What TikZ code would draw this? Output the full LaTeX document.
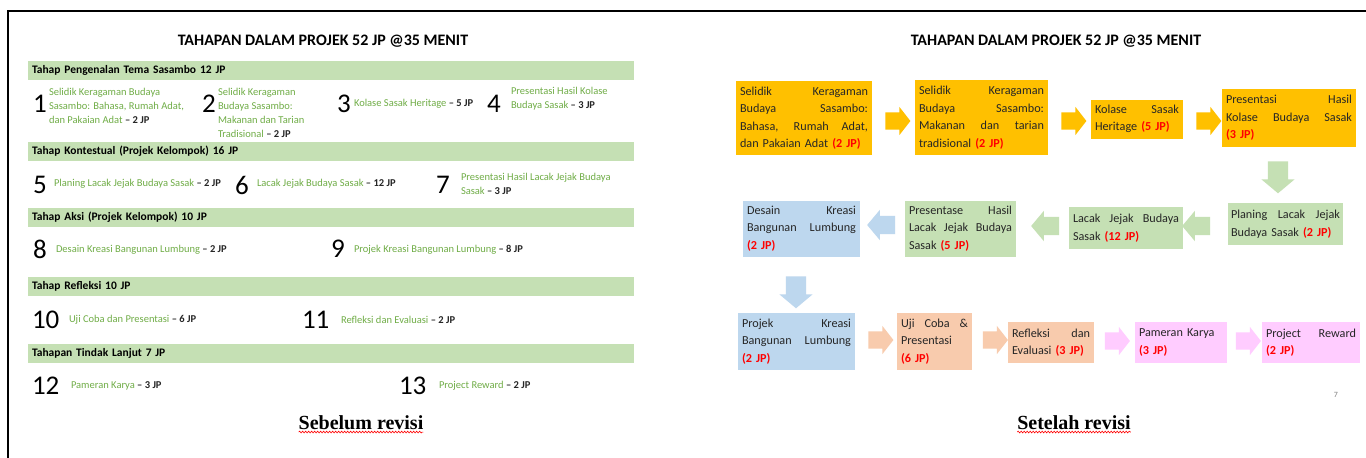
\documentclass[tikz,border=0pt]{standalone}
\usepackage{fontspec}
\setmainfont{Carlito}
\newfontfamily\capfont{Liberation Serif}
\usetikzlibrary{shapes.arrows,calc,decorations.pathmorphing}
\definecolor{borange}{HTML}{FFC000}
\definecolor{bgreen}{HTML}{C5E0B4}
\definecolor{bblue}{HTML}{BDD7EE}
\definecolor{bpeach}{HTML}{F8CBAD}
\definecolor{bpink}{HTML}{FFCCFF}
\definecolor{itemgreen}{HTML}{70AD47}
\definecolor{jpred}{HTML}{FF0000}
\definecolor{txt}{HTML}{262626}
\newcommand{\jl}[2]{\leavevmode\hbox to #1pt{\spaceskip=0.25em plus 1fil\relax #2}}
\newcommand{\jp}[1]{\textcolor{jpred}{\bfseries(#1)}}
\newcommand{\dur}[1]{{\bfseries\color{txt}#1}}
\begin{document}
\begin{tikzpicture}[x=1pt,y=-1pt,
  every node/.style={inner sep=0pt, outer sep=0pt},
  ttl/.style={font=\bfseries\fontsize{16}{19}\selectfont, text=black},
  bar/.style={fill=bgreen, minimum width=606pt, minimum height=19pt, anchor=north west, text width=598pt, inner xsep=4pt, align=left, font=\bfseries\fontsize{11.5}{13}\selectfont, text=black},
  num/.style={font=\fontsize{27}{27}\selectfont, anchor=west, text=black},
  item/.style={font=\fontsize{10.5}{14}\selectfont, anchor=west, align=left, text=itemgreen},
  stepbox/.style={fill=#1, inner sep=4pt, align=left, font=\fontsize{12.2}{17.5}\selectfont, text=txt},
  blk/.style={single arrow, fill=#1, inner xsep=0pt, inner ysep=8.5pt, minimum height=25pt, single arrow head extend=5.5pt, single arrow tip angle=104},
  blkd/.style={single arrow, fill=#1, inner xsep=0pt, inner ysep=10pt, minimum height=32pt, single arrow head extend=6.5pt, single arrow tip angle=100, rotate=-90},
  blkl/.style={single arrow, fill=#1, inner xsep=0pt, inner ysep=9pt, minimum height=28pt, single arrow head extend=6pt, single arrow tip angle=100, rotate=180},
  captxt/.style={font=\capfont\bfseries\fontsize{20}{23}\selectfont, text=black},
  wavy/.style={draw=red, line width=0.6pt, decorate, decoration={snake, amplitude=0.9pt, segment length=3pt}}
]
\useasboundingbox (0,0) rectangle (1366,458);
\fill[white] (0,0) rectangle (1366,458);
\draw[line width=2pt] (8,458) -- (8,11) -- (1366,11);

% ---------------- left: before revision ----------------
\node[ttl] (t1) at (323,41) {TAHAPAN DALAM PROJEK 52 JP @35 MENIT};

\node[bar] (bar1) at (28,61) {Tahap Pengenalan Tema Sasambo 12 JP};
\node[num] (n1) at (33,104) {1};
\node[item] (i1) at (49,106) {Selidik Keragaman Budaya\\Sasambo: Bahasa, Rumah Adat,\\dan Pakaian Adat \dur{– 2 JP}};
\node[num] (n2) at (202,104) {2};
\node[item] (i2) at (218,113) {Selidik Keragaman\\Budaya Sasambo:\\Makanan dan Tarian\\Tradisional \dur{– 2 JP}};
\node[num] (n3) at (337,104) {3};
\node[item] (i3) at (354,104) {Kolase Sasak Heritage \dur{– 5 JP}};
\node[num] (n4) at (487,104) {4};
\node[item] (i4) at (511,99) {Presentasi Hasil Kolase\\Budaya Sasak \dur{– 3 JP}};

\node[bar] (bar2) at (28,142) {Tahap Kontestual (Projek Kelompok) 16 JP};
\node[num] (n5) at (33,185) {5};
\node[item] (i5) at (54,184) {Planing Lacak Jejak Budaya Sasak \dur{– 2 JP}};
\node[num] (n6) at (235,185) {6};
\node[item] (i6) at (257,184) {Lacak Jejak Budaya Sasak \dur{– 12 JP}};
\node[num] (n7) at (436,185) {7};
\node[item] (i7) at (461,184) {Presentasi Hasil Lacak Jejak Budaya\\Sasak \dur{– 3 JP}};

\node[bar] (bar3) at (28,208) {Tahap Aksi (Projek Kelompok) 10 JP};
\node[num] (n8) at (33,249) {8};
\node[item] (i8) at (56,250) {Desain Kreasi Bangunan Lumbung \dur{– 2 JP}};
\node[num] (n9) at (331,249) {9};
\node[item] (i9) at (354,250) {Projek Kreasi Bangunan Lumbung \dur{– 8 JP}};

\node[bar] (bar4) at (28,277) {Tahap Refleksi 10 JP};
\node[num] (n10) at (32,320) {10};
\node[item] (i10) at (69,320) {Uji Coba dan Presentasi \dur{– 6 JP}};
\node[num] (n11) at (302,320) {11};
\node[item] (i11) at (341,320) {Refleksi dan Evaluasi \dur{– 2 JP}};

\node[bar] (bar5) at (28,344) {Tahapan Tindak Lanjut 7 JP};
\node[num] (n12) at (32,386) {12};
\node[item] (i12) at (71,386) {Pameran Karya \dur{– 3 JP}};
\node[num] (n13) at (399,386) {13};
\node[item] (i13) at (439,386) {Project Reward \dur{– 2 JP}};

\node[captxt] (c1) at (361,423) {Sebelum revisi};
\draw[wavy] ($(c1.south west)+(0,2)$) -- ($(c1.south east)+(0,2)$);

% ---------------- right: after revision ----------------
\node[ttl] (t2) at (1056,41) {TAHAPAN DALAM PROJEK 52 JP @35 MENIT};

\node[stepbox=borange, text width=128pt, minimum height=74pt] (b1) at (804,118)
  {\jl{128}{Selidik Keragaman}\\\jl{128}{Budaya Sasambo:}\\\jl{128}{Bahasa, Rumah Adat,}\\dan Pakaian Adat \jp{2 JP}};
\node[stepbox=borange, text width=125pt, minimum height=75pt] (b2) at (981.5,117.5)
  {\jl{125}{Selidik Keragaman}\\\jl{125}{Budaya Sasambo:}\\\jl{125}{Makanan dan tarian}\\tradisional \jp{2 JP}};
\node[stepbox=borange, text width=84pt, minimum height=39pt] (b3) at (1137,119)
  {\jl{84}{Kolase Sasak}\\Heritage \jp{5 JP}};
\node[stepbox=borange, text width=126pt, minimum height=58pt] (b4) at (1289,118)
  {\jl{126}{Presentasi Hasil}\\\jl{126}{Kolase Budaya Sasak}\\\jp{3 JP}};

\node[blk=borange] (a1) at (894.5,121) {};
\node[blk=borange] (a2) at (1070.5,121) {};
\node[blk=borange] (a3) at (1205.5,121) {};
\node[blkd=bgreen] (a4) at (1278,173) {};

\node[stepbox=bgreen, text width=109pt, inner xsep=3pt, minimum height=42pt] (b5) at (1285.5,224)
  {\jl{109}{Planing Lacak Jejak}\\Budaya Sasak \jp{2 JP}};
\node[stepbox=bgreen, text width=106pt, minimum height=42pt] (b6) at (1126,228)
  {\jl{106}{Lacak Jejak Budaya}\\Sasak \jp{12 JP}};
\node[stepbox=bgreen, text width=103pt, minimum height=56pt] (b7) at (960.5,228.5)
  {\jl{103}{Presentase Hasil}\\\jl{103}{Lacak Jejak Budaya}\\Sasak \jp{5 JP}};
\node[stepbox=bblue, text width=109pt, minimum height=56pt] (b8) at (801.5,228.5)
  {\jl{109}{Desain Kreasi}\\\jl{109}{Bangunan Lumbung}\\\jp{2 JP}};

\node[blkl=bgreen] (a5) at (1200,226) {};
\node[blkl=bgreen] (a6) at (1049,226) {};
\node[blkl=bblue] (a7) at (885,225) {};
\node[blkd=bblue] (a8) at (796,288) {};

\node[stepbox=bblue, text width=109pt, minimum height=57pt] (b9) at (796.5,341.5)
  {\jl{109}{Projek Kreasi}\\\jl{109}{Bangunan Lumbung}\\\jp{2 JP}};
\node[stepbox=bpeach, text width=67pt, minimum height=57pt] (b10) at (934.5,341.5)
  {\jl{67}{Uji Coba \&}\\Presentasi\\\jp{6 JP}};
\node[stepbox=bpeach, text width=78pt, minimum height=41pt] (b11) at (1051,342.5)
  {\jl{78}{Refleksi dan}\\Evaluasi \jp{3 JP}};
\node[stepbox=bpink, text width=84pt, minimum height=41pt] (b12) at (1181,342.5)
  {Pameran Karya\\\jp{3 JP}};
\node[stepbox=bpink, text width=90pt, minimum height=41pt] (b13) at (1311,342.5)
  {\jl{90}{Project Reward}\\\jp{2 JP}};

\node[blk=bpeach] (a9) at (877.5,340) {};
\node[blk=bpeach] (a10) at (992,340) {};
\node[blk=bpink] (a11) at (1114,341) {};
\node[blk=bpink] (a12) at (1245,341) {};

\node[font=\fontsize{8}{9}\selectfont, text=gray] (pg) at (1336,395) {7};

\node[captxt] (c2) at (1074,423) {Setelah revisi};
\draw[wavy] ($(c2.south west)+(0,2)$) -- ($(c2.south east)+(0,2)$);
\end{tikzpicture}
\end{document}
